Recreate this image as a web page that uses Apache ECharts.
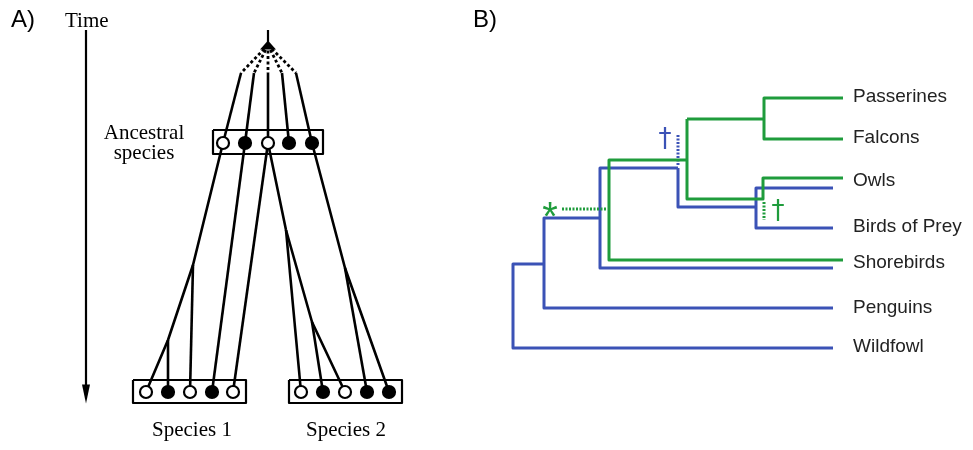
<!DOCTYPE html>
<html><head><meta charset="utf-8">
<script src="https://cdn.jsdelivr.net/npm/echarts@6/dist/echarts.min.js"></script>
<style>html,body{margin:0;padding:0;background:#fff}#c{width:973px;height:450px}</style>
</head><body><div id="c"></div>
<script>
// ---------- Panel A data (diagram node coordinates) ----------
const timeArrow = [[86, 30], [86, 388]];
const arrowHead = [[86, 394]];
const rootStem = [[268, 30], [268, 45]];
const rootApex = [[268, 45]];
const rootTips = [[241, 73], [254, 73], [268, 73], [282, 73], [296, 73]];
const ancestralCircles = [[223, 143], [245, 143], [268, 143], [289, 143], [312, 143]];
const ancestralFilled = [false, true, false, true, true];
const species1Circles = [[146, 392], [168, 392], [190, 392], [212, 392], [233, 392]];
const species1Filled = [false, true, false, true, false];
const species2Circles = [[301, 392], [323, 392], [345, 392], [367, 392], [389, 392]];
const species2Filled = [false, true, false, true, true];
const boxes = [[213, 130, 323, 154], [133, 380, 246, 403], [289, 380, 402, 403]];
const descentLines = [
  [[223, 143], [193, 265], [168, 340], [146, 392]],
  [[193, 265], [190, 392]],
  [[168, 340], [168, 392]],
  [[245, 143], [212, 392]],
  [[268, 143], [233, 392]],
  [[268, 143], [286, 230], [312, 322], [345, 392]],
  [[286, 230], [301, 392]],
  [[312, 322], [323, 392]],
  [[312, 143], [345, 268], [389, 392]],
  [[345, 268], [367, 392]]
];
const panelALabels = ['A)', 'Time', 'Ancestral\nspecies', 'Species 1', 'Species 2'];
const panelALabelPos = [[11, 20], [65, 21], [144, 143], [192, 430], [346, 430]];

// ---------- Panel B data ----------
const taxa = ['Passerines', 'Falcons', 'Owls', 'Birds of Prey', 'Shorebirds', 'Penguins', 'Wildfowl'];
const taxaPos = [[853, 97], [853, 138], [853, 181], [853, 227], [853, 263], [853, 308], [853, 347]];
const greenTree = [
  [[843, 98], [764, 98], [764, 139], [843, 139]],
  [[764, 119], [687, 119]],
  [[687, 119], [687, 199], [763, 199], [763, 178], [843, 178]],
  [[687, 160], [609, 160], [609, 260], [843, 260]]
];
const blueTree = [
  [[544, 264], [513, 264], [513, 348], [833, 348]],
  [[600, 218], [544, 218], [544, 308], [833, 308]],
  [[678, 168], [600, 168], [600, 268], [833, 268]],
  [[678, 168], [678, 207], [756, 207]],
  [[833, 188], [756, 188], [756, 228], [833, 228]]
];
const greenDotted = [[[562, 209], [607, 209]], [[764, 202], [764, 220]]];
const blueDotted = [[[678, 135], [678, 166]]];
const panelBLabel = ['B)'];
const panelBLabelPos = [[473, 20]];
const markerTexts = ['*', '†', '†'];
const markerPos = [[550, 219], [665, 140], [778, 212]];

// ---------- Build ----------
const GREEN = '#1f9c3c', BLUE = '#3b52b6', INK = '#000';
const series = [];
function pathSeries(path, color, width, type, z) {
  series.push({ type: 'line', data: path, symbol: 'none', silent: true, animation: false,
    lineStyle: { color: color, width: width, type: type || 'solid', cap: 'butt', join: 'round', opacity: 1 }, z: z || 2 });
}
function textSeries(texts, pos, style, z) {
  series.push({ type: 'scatter', symbolSize: 0, silent: true, animation: false, z: z || 5,
    itemStyle: { opacity: 1 },
    data: texts.map((t, i) => ({ name: t, value: pos[i] })),
    label: Object.assign({ show: true, position: [0, 0], formatter: '{b}' }, style) });
}

// Panel A
pathSeries(timeArrow, INK, 2.2);
series.push({ type: 'scatter', data: arrowHead, symbol: 'triangle', symbolRotate: 180, symbolSize: [8, 19],
  itemStyle: { color: INK, opacity: 1 }, silent: true, animation: false, z: 3 });
pathSeries(rootStem, INK, 2.2);
series.push({ type: 'scatter', data: rootApex, symbol: 'triangle', symbolSize: [16, 9],
  itemStyle: { color: INK, opacity: 1 }, silent: true, animation: false, z: 3 });
rootTips.forEach(t => pathSeries([rootApex[0], t], INK, 2.8, [3, 2.5]));
rootTips.forEach((t, i) => pathSeries([t, ancestralCircles[i]], INK, 2.6));
descentLines.forEach(p => pathSeries(p, INK, 2.6));
boxes.forEach(b => pathSeries([[b[0], b[1]], [b[2], b[1]], [b[2], b[3]], [b[0], b[3]], [b[0], b[1]]], INK, 2.2));
[[ancestralCircles, ancestralFilled], [species1Circles, species1Filled], [species2Circles, species2Filled]].forEach(([c, f]) => {
  series.push({ type: 'scatter', symbol: 'circle', symbolSize: 12, silent: true, animation: false, z: 4,
    data: c.map((p, i) => ({ value: p, itemStyle: { color: f[i] ? INK : '#fff' } })),
    itemStyle: { borderColor: INK, borderWidth: 2.2, opacity: 1 } });
});
textSeries(panelALabels.slice(0, 1), panelALabelPos.slice(0, 1),
  { fontFamily: 'Liberation Sans', fontSize: 24, color: INK, align: 'left', verticalAlign: 'middle' });
textSeries([panelALabels[1]], [panelALabelPos[1]],
  { fontFamily: 'Liberation Serif', fontSize: 21, color: INK, align: 'left', verticalAlign: 'middle' });
textSeries(panelALabels.slice(2), panelALabelPos.slice(2),
  { fontFamily: 'Liberation Serif', fontSize: 21, lineHeight: 20, color: INK, align: 'center', verticalAlign: 'middle' });

// Panel B
blueTree.forEach(p => pathSeries(p, BLUE, 3, 'solid', 2));
blueDotted.forEach(p => pathSeries(p, BLUE, 3, [2, 1.5], 2));
greenTree.forEach(p => pathSeries(p, GREEN, 3, 'solid', 3));
greenDotted.forEach(p => pathSeries(p, GREEN, 3, [2, 1.5], 3));
textSeries(panelBLabel, panelBLabelPos,
  { fontFamily: 'Liberation Sans', fontSize: 24, color: INK, align: 'left', verticalAlign: 'middle' });
textSeries(taxa, taxaPos,
  { fontFamily: 'Liberation Sans', fontSize: 19, color: '#222', align: 'left', verticalAlign: 'middle' });
textSeries([markerTexts[0]], [markerPos[0]],
  { fontFamily: 'Liberation Sans', fontSize: 40, color: GREEN, align: 'center', verticalAlign: 'middle' });
textSeries([markerTexts[1]], [markerPos[1]],
  { fontFamily: 'DejaVu Sans', fontSize: 26, color: BLUE, align: 'center', verticalAlign: 'middle' });
textSeries([markerTexts[2]], [markerPos[2]],
  { fontFamily: 'DejaVu Sans', fontSize: 26, color: GREEN, align: 'center', verticalAlign: 'middle' });

const chart = echarts.init(document.getElementById('c'), null, { renderer: 'canvas' });
chart.setOption({
  animation: false,
  backgroundColor: '#fff',
  grid: { left: 0, right: 0, top: 0, bottom: 0, containLabel: false },
  xAxis: { type: 'value', min: 0, max: 973, show: false },
  yAxis: { type: 'value', min: 0, max: 450, inverse: true, show: false },
  series: series
});
</script></body></html>
